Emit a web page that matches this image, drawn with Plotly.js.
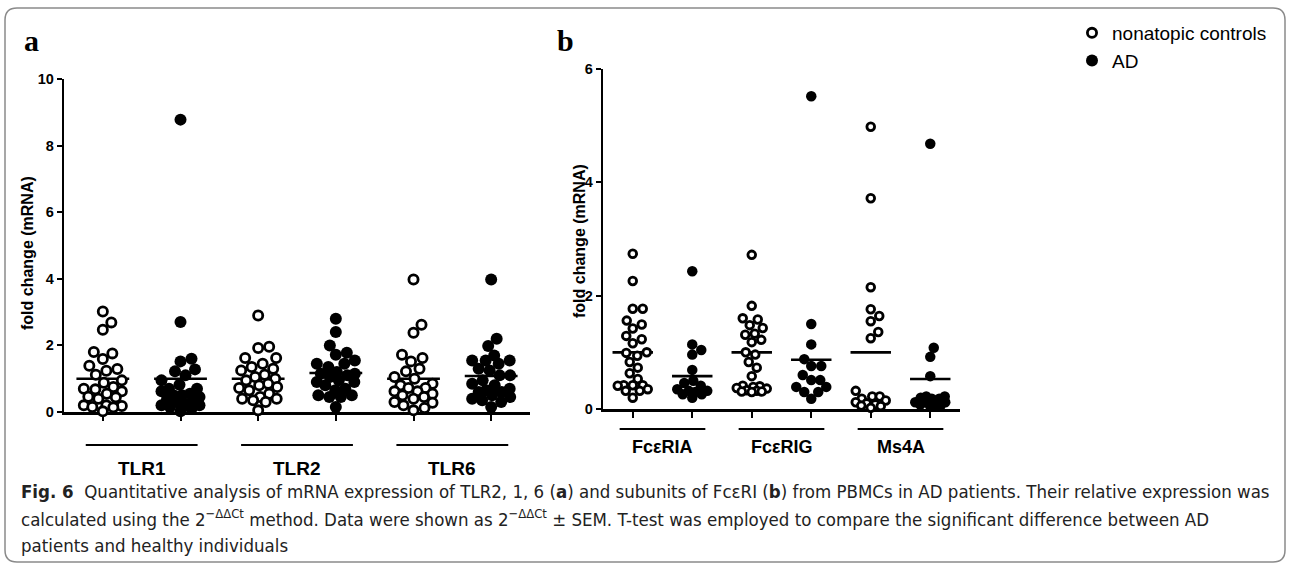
<!DOCTYPE html>
<html>
<head>
<meta charset="utf-8">
<script src="https://cdn.plot.ly/plotly-3.0.1.min.js"></script>
<style>html,body{margin:0;padding:0;background:#fff;}#chart{width:1290px;height:568px;}</style>
</head>
<body>
<div id="chart"></div>
<script>
// ---------- data ----------
const categoriesA = ['TLR1', 'TLR2', 'TLR6'];
const categoriesB = ['FcεRIA', 'FcεRIG', 'Ms4A'];
const seriesNames = ['nonatopic controls', 'AD'];

const tlr1Nc = [3.02, 2.69, 2.47, 1.80, 1.76, 1.59, 1.39, 1.29, 1.24, 1.12, 0.95, 0.88, 0.75, 0.70, 0.68, 0.62, 0.55, 0.46, 0.44, 0.40, 0.20, 0.20, 0.18, 0.15, 0.14, 0.02];
const tlr1Ad = [8.78, 2.70, 1.60, 1.52, 1.28, 1.22, 1.10, 0.95, 0.82, 0.70, 0.70, 0.62, 0.55, 0.50, 0.50, 0.45, 0.38, 0.32, 0.30, 0.25, 0.20, 0.20, 0.15, 0.10, 0.02];
const tlr2Nc = [2.90, 1.96, 1.92, 1.62, 1.62, 1.45, 1.35, 1.30, 1.25, 1.12, 1.05, 1.00, 0.95, 0.85, 0.80, 0.75, 0.72, 0.65, 0.55, 0.45, 0.40, 0.40, 0.35, 0.30, 0.05];
const tlr2Ad = [2.80, 2.40, 2.00, 1.78, 1.72, 1.55, 1.45, 1.45, 1.35, 1.20, 1.15, 1.15, 1.10, 1.05, 0.95, 0.90, 0.90, 0.80, 0.70, 0.65, 0.50, 0.50, 0.45, 0.45, 0.15];
const tlr6Nc = [3.98, 2.62, 2.38, 1.72, 1.62, 1.52, 1.30, 1.22, 1.05, 1.00, 0.85, 0.80, 0.72, 0.72, 0.62, 0.62, 0.55, 0.50, 0.45, 0.40, 0.30, 0.28, 0.20, 0.12, 0.05];
const tlr6Ad = [3.98, 2.20, 1.98, 1.70, 1.55, 1.55, 1.55, 1.45, 1.30, 1.25, 1.10, 1.10, 0.95, 0.85, 0.80, 0.70, 0.65, 0.60, 0.60, 0.50, 0.45, 0.40, 0.35, 0.30, 0.15];

const fcriaNc = [2.74, 2.26, 1.77, 1.77, 1.56, 1.49, 1.42, 1.29, 1.23, 1.16, 1.00, 0.99, 0.94, 0.83, 0.73, 0.63, 0.53, 0.42, 0.42, 0.42, 0.41, 0.35, 0.32, 0.32, 0.20];
const fcriaAd = [2.43, 1.14, 1.04, 0.96, 0.69, 0.50, 0.46, 0.41, 0.35, 0.32, 0.32, 0.30, 0.26, 0.26, 0.20];
const fcrigNc = [2.72, 1.82, 1.60, 1.58, 1.48, 1.43, 1.33, 1.31, 1.22, 1.18, 1.00, 0.96, 0.83, 0.73, 0.58, 0.41, 0.40, 0.39, 0.37, 0.36, 0.33, 0.32, 0.31, 0.31, 0.30];
const fcrigAd = [5.52, 1.50, 1.14, 0.88, 0.76, 0.76, 0.60, 0.51, 0.51, 0.39, 0.39, 0.30, 0.30, 0.18];
const ms4aNc = [4.98, 3.72, 2.15, 1.76, 1.64, 1.55, 1.36, 1.25, 0.32, 0.22, 0.22, 0.18, 0.15, 0.12, 0.10, 0.08, 0.06, 0.05, 0.02];
const ms4aAd = [4.68, 1.08, 0.92, 0.58, 0.22, 0.22, 0.20, 0.18, 0.18, 0.12, 0.12, 0.12, 0.08, 0.08, 0.05, 0.05];

const meansANc = [1.00, 1.00, 1.00];
const meansAAd = [1.00, 1.17, 1.08];
const meansBNc = [1.00, 1.00, 1.00];
const meansBAd = [0.58, 0.87, 0.53];

const yTicksA = [0, 2, 4, 6, 8, 10];
const yTicksB = [0, 2, 4, 6];

// ---------- layout geometry ----------
const W = 1290, H = 568;
const PA = {x0: 64, x1: 530, yb: 412, yt: 79, ymax: 10, diam: 12, maxOff: 19};
const PB = {x0: 603, x1: 960, yb: 409, yt: 69, ymax: 6, diam: 10.5, maxOff: 15};
const XR = [-0.5, 5.5];
const px = v => v / W;
const py = v => 1 - v / H;

// beeswarm placement (pixel space), capped width like a dot plot
function swarm(vals, center, pxX, pxY, d, maxOff) {
  const idx = vals.map((v, i) => i).sort((a, b) => vals[a] - vals[b]);
  const placed = [];
  const out = new Array(vals.length);
  const nC = Math.floor(maxOff / 0.5);
  for (const i of idx) {
    const y = vals[i] * pxY;
    let best = null, bestScore = -1;
    for (let k = 0; k <= 2 * nC; k++) {
      const off = (k % 2 === 1 ? 1 : -1) * Math.ceil(k / 2) * 0.5;
      let mind = Infinity;
      for (const p of placed) {
        const dx = p.x - off, dy = p.y - y;
        mind = Math.min(mind, Math.sqrt(dx * dx + dy * dy));
      }
      if (mind >= d) { best = off; break; }
      if (mind > bestScore + 0.01) { bestScore = mind; best = off; }
    }
    placed.push({x: best, y: y});
    out[i] = center + best / pxX;
  }
  return out;
}

const FONT = 'Liberation Sans, Arial, sans-serif';
const traces = [];

function panel(P, groupsNc, groupsAd, meansNc, meansAd, xa, ya, showLeg) {
  const pxX = (P.x1 - P.x0) / (XR[1] - XR[0]);
  const pxY = (P.yb - P.yt) / P.ymax;
  const diam = P.diam;
  let xn = [], yn = [], xd = [], yd = [];
  groupsNc.forEach((g, gi) => {
    xn = xn.concat(swarm(g, gi * 2, pxX, pxY, diam * 0.92, P.maxOff));
    yn = yn.concat(g);
  });
  groupsAd.forEach((g, gi) => {
    xd = xd.concat(swarm(g, gi * 2 + 1, pxX, pxY, diam * 0.92, P.maxOff));
    yd = yd.concat(g);
  });
  const mx = [], my = [];
  const half = 0.34;
  meansNc.forEach((m, gi) => { mx.push(gi * 2 - half, gi * 2 + half, null); my.push(m, m, null); });
  meansAd.forEach((m, gi) => { mx.push(gi * 2 + 1 - half, gi * 2 + 1 + half, null); my.push(m, m, null); });
  traces.push({type: 'scatter', mode: 'lines', x: mx, y: my, xaxis: xa, yaxis: ya,
    line: {color: '#000', width: 2.6}, showlegend: false, hoverinfo: 'skip', cliponaxis: false});
  traces.push({type: 'scatter', mode: 'markers', x: xn, y: yn, xaxis: xa, yaxis: ya,
    name: seriesNames[0], legendgroup: 'nc', showlegend: showLeg, cliponaxis: false,
    marker: {symbol: 'circle', size: diam - 2.8, color: '#fff', line: {color: '#000', width: 2.8}}});
  traces.push({type: 'scatter', mode: 'markers', x: xd, y: yd, xaxis: xa, yaxis: ya,
    name: seriesNames[1], legendgroup: 'ad', showlegend: showLeg, cliponaxis: false,
    marker: {symbol: 'circle', size: diam, color: '#000', line: {width: 0}}});
}

panel(PA, [tlr1Nc, tlr2Nc, tlr6Nc], [tlr1Ad, tlr2Ad, tlr6Ad], meansANc, meansAAd, 'x', 'y', true);
panel(PB, [fcriaNc, fcrigNc, ms4aNc], [fcriaAd, fcrigAd, ms4aAd], meansBNc, meansBAd, 'x2', 'y2', false);

function xaxisDef(P, anchor) {
  return {domain: [px(P.x0), px(P.x1)], range: XR, anchor: anchor, showline: true, linewidth: 2.6, linecolor: '#000',
    ticks: 'outside', ticklen: 6, tickwidth: 2, tickcolor: '#000', tickvals: [0, 1, 2, 3, 4, 5],
    showticklabels: false, showgrid: false, zeroline: false, fixedrange: true, layer: 'below traces'};
}
function yaxisDef(P, ticks, anchor) {
  return {domain: [py(P.yb), py(P.yt)], range: [0, P.ymax], anchor: anchor, showline: true, linewidth: 2.2,
    linecolor: '#000', ticks: 'outside', ticklen: 5, tickwidth: 2, tickcolor: '#000', tickvals: ticks,
    ticktext: ticks.map(t => '<b>' + t + '</b>'), tickfont: {family: FONT, size: 14.5, color: '#000'},
    showgrid: false, zeroline: false, fixedrange: true, layer: 'below traces'};
}

const annotations = [];
const shapes = [];

function groupLabels(cats, ulineY, labelY, fsize, xa) {
  cats.forEach((c, gi) => {
    const cx = gi * 2 + 0.5;
    shapes.push({type: 'line', xref: xa, yref: 'paper', x0: cx - 0.72, x1: cx + 0.72,
      y0: py(ulineY), y1: py(ulineY), line: {color: '#000', width: 2}});
    annotations.push({xref: xa, yref: 'paper', x: cx, y: py(labelY), text: '<b>' + c + '</b>', showarrow: false,
      xanchor: 'center', yanchor: 'middle', font: {family: FONT, size: fsize, color: '#000'}});
  });
}
groupLabels(categoriesA, 445, 468, 19, 'x');
groupLabels(categoriesB, 429, 447, 18, 'x2');

// axis titles
annotations.push({xref: 'paper', yref: 'paper', x: px(27), y: py(253), text: '<b>fold change (mRNA)</b>', textangle: -90,
  showarrow: false, xanchor: 'center', yanchor: 'middle', font: {family: FONT, size: 16, color: '#000'}});
annotations.push({xref: 'paper', yref: 'paper', x: px(580), y: py(241), text: '<b>fold change (mRNA)</b>', textangle: -90,
  showarrow: false, xanchor: 'center', yanchor: 'middle', font: {family: FONT, size: 16, color: '#000'}});

// panel letters
const SERIF = 'Liberation Serif, Times New Roman, serif';
annotations.push({xref: 'paper', yref: 'paper', x: px(22), y: py(40), text: '<b>a</b>', showarrow: false,
  xanchor: 'left', yanchor: 'middle', font: {family: SERIF, size: 30, color: '#000'}});
annotations.push({xref: 'paper', yref: 'paper', x: px(555), y: py(40), text: '<b>b</b>', showarrow: false,
  xanchor: 'left', yanchor: 'middle', font: {family: SERIF, size: 30, color: '#000'}});

// caption
const CAP = 'DejaVu Sans Condensed, Liberation Sans Narrow, sans-serif';
const capLines = [
  '<b>Fig. 6</b>  Quantitative analysis of mRNA expression of TLR2, 1, 6 (<b>a</b>) and subunits of FcεRI (<b>b</b>) from PBMCs in AD patients. Their relative expression was',
  'calculated using the 2<sup>−ΔΔCt</sup> method. Data were shown as 2<sup>−ΔΔCt</sup> ± SEM. T-test was employed to compare the significant difference between AD',
  'patients and healthy individuals'
];
const capY = [491, 518, 545];
capLines.forEach((t, i) => {
  annotations.push({xref: 'paper', yref: 'paper', x: px(19), y: py(capY[i]), text: t, showarrow: false,
    xanchor: 'left', yanchor: 'middle', align: 'left', font: {family: CAP, size: 18.5, color: '#222'}});
});

// rounded frame
const fx0 = 5, fx1 = 1285, fy0 = 8, fy1 = 562, r = 12;
const framePath = [
  'M' + px(fx0 + r) + ',' + py(fy0),
  'L' + px(fx1 - r) + ',' + py(fy0),
  'Q' + px(fx1) + ',' + py(fy0) + ' ' + px(fx1) + ',' + py(fy0 + r),
  'L' + px(fx1) + ',' + py(fy1 - r),
  'Q' + px(fx1) + ',' + py(fy1) + ' ' + px(fx1 - r) + ',' + py(fy1),
  'L' + px(fx0 + r) + ',' + py(fy1),
  'Q' + px(fx0) + ',' + py(fy1) + ' ' + px(fx0) + ',' + py(fy1 - r),
  'L' + px(fx0) + ',' + py(fy0 + r),
  'Q' + px(fx0) + ',' + py(fy0) + ' ' + px(fx0 + r) + ',' + py(fy0), 'Z'
].join(' ');
shapes.push({type: 'path', xref: 'paper', yref: 'paper', path: framePath,
  line: {color: '#8a8a8a', width: 1.5}, fillcolor: 'rgba(0,0,0,0)', layer: 'below'});

const layout = {
  width: W, height: H, margin: {l: 0, r: 0, t: 0, b: 0}, paper_bgcolor: '#fff', plot_bgcolor: 'rgba(0,0,0,0)',
  font: {family: FONT, color: '#000'},
  xaxis: xaxisDef(PA, 'y'), yaxis: yaxisDef(PA, yTicksA, 'x'),
  xaxis2: xaxisDef(PB, 'y2'), yaxis2: yaxisDef(PB, yTicksB, 'x2'),
  showlegend: true,
  legend: {x: px(1072), y: py(14), xanchor: 'left', yanchor: 'top', bgcolor: 'rgba(0,0,0,0)',
    font: {family: FONT, size: 19, color: '#000'}, itemsizing: 'trace', tracegroupgap: 0},
  annotations: annotations, shapes: shapes, hovermode: false
};

Plotly.newPlot('chart', traces, layout, {staticPlot: true, displayModeBar: false});
</script>
</body>
</html>
